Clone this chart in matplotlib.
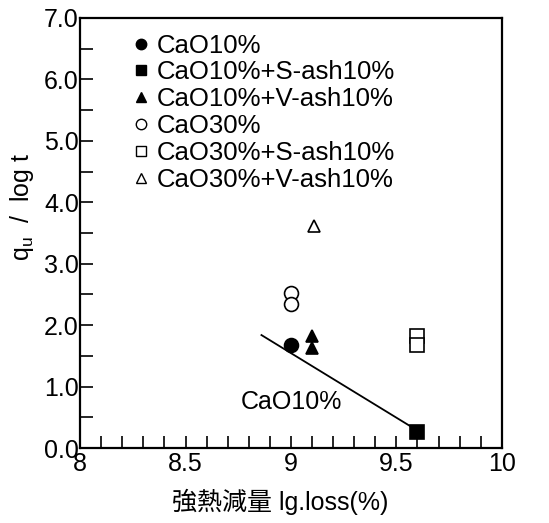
import matplotlib
matplotlib.use("Agg")
import matplotlib.pyplot as plt
from matplotlib.lines import Line2D
from matplotlib.ticker import MultipleLocator, FormatStrFormatter

plt.rcParams['font.family'] = ['Liberation Sans', 'Noto Sans CJK JP', 'DejaVu Sans']
plt.rcParams['mathtext.fontset'] = 'custom'
plt.rcParams['mathtext.rm'] = 'Liberation Sans'
plt.rcParams['mathtext.it'] = 'Liberation Sans'

# Series: ignition loss (%) vs qu / log t
series_labels = ["CaO10%", "CaO10%+S-ash10%", "CaO10%+V-ash10%",
                 "CaO30%", "CaO30%+S-ash10%", "CaO30%+V-ash10%"]
series_markers = ["o", "s", "^", "o", "s", "^"]
series_filled = [True, True, True, False, False, False]
series_x = [[9.0], [9.6], [9.1, 9.1], [9.0, 9.0], [9.6, 9.6], [9.11]]
series_y = [[1.68], [0.27], [1.82, 1.63], [2.52, 2.34], [1.82, 1.68], [3.61]]

# Trend line for CaO10%
trend_x = [8.86, 9.57]
trend_y = [1.84, 0.35]

fig, ax = plt.subplots(figsize=(5.49, 5.23), dpi=100)
fig.subplots_adjust(left=0.146, right=0.914, top=0.966, bottom=0.143)

sizes = [10, 9.5, 9, 10, 9.5, 9]
for lab, m, filled, xs, ys, ms in zip(series_labels, series_markers, series_filled,
                                     series_x, series_y, sizes):
    ax.plot(xs, ys, linestyle="none", marker=m, markersize=ms,
            markerfacecolor="black" if filled else "white",
            markeredgecolor="black", markeredgewidth=1.2, zorder=3)

ax.plot(trend_x, trend_y, color="black", linewidth=1.3, zorder=2)
ax.text(9.0, 0.75, "CaO10%", fontsize=18, ha="center", va="center")

handles = []
for lab, m, filled in zip(series_labels, series_markers, series_filled):
    handles.append(Line2D([], [], linestyle="none", marker=m, markersize=7.5,
                          markerfacecolor="black" if filled else "white",
                          markeredgecolor="black", markeredgewidth=1.0, label=lab))
ax.legend(handles=handles, loc="upper left", bbox_to_anchor=(0.075, 1.005),
          frameon=False, fontsize=18.5, handletextpad=0.15, labelspacing=0.11,
          borderaxespad=0.3, handlelength=0.9)

ax.set_xlim(8, 10)
ax.set_ylim(0, 7)
ax.set_xticks([8, 8.5, 9, 9.5, 10])
ax.set_xticklabels(["8", "8.5", "9", "9.5", "10"])
ax.xaxis.set_minor_locator(MultipleLocator(0.1))
ax.yaxis.set_major_locator(MultipleLocator(1.0))
ax.yaxis.set_minor_locator(MultipleLocator(0.5))
ax.yaxis.set_major_formatter(FormatStrFormatter("%.1f"))

ax.tick_params(axis="both", which="both", direction="in", top=False, right=False,
               width=1.2, labelsize=18)
ax.tick_params(axis="y", which="major", length=9, pad=1)
ax.tick_params(axis="x", which="major", length=9, pad=3)
ax.tick_params(axis="both", which="minor", length=9)

for s in ax.spines.values():
    s.set_linewidth(1.6)

ax.set_xlabel("強熱減量 lg.loss(%)", fontsize=18, labelpad=9, x=0.475)
ax.set_ylabel("q$_\\mathregular{u}$  /  log t", fontsize=18, labelpad=6, y=0.56)

fig.savefig("out.png", dpi=100)
